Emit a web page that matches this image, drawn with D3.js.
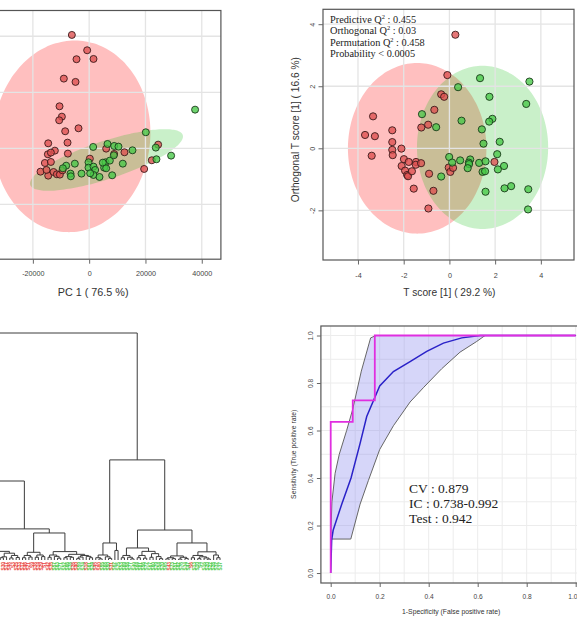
<!DOCTYPE html>
<html><head><meta charset="utf-8">
<script src="https://cdn.jsdelivr.net/npm/d3@7"></script>
<style>body{margin:0;background:#fff}svg{display:block}</style>
</head><body>
<svg id="chart" width="577" height="619"></svg>
<script>
// ================= DATA =================
// Panel A : PCA scores
const pcaRedX = [-6150,-710,1540,-4500,-9000,-4850,-10530,-9700,-10650,-8520,-3790,-14550,-7690,-12190,-14670,-13600,-7570,-15740,-13600,-17280,-14550,-15150,-12660,-11480,-10410,-9470,240,6040,8880,12540,22250,19530,24500];
const pcaRedY = [20240,17500,15950,15900,12440,11850,7500,5650,5000,3040,3570,890,1010,-420,-1070,-770,-950,-2620,-2440,-4170,-4880,-3870,-4230,-4640,-4700,-3930,-1850,-60,-1010,-710,-2140,-3690,650];
const pcaGreenX = [37630,20120,23670,29110,23900,1420,6510,8880,10410,15380,-5090,-8170,-9350,-6630,-6510,-2720,-240,-240,1540,2130,1540,3670,5320,5800,4850,6040,7340,8170,8760,11950,360];
const pcaGreenY = [6900,2860,120,-1310,-1960,240,770,420,300,-360,-2740,-3100,-3570,-4520,-5000,-4520,-2500,-3450,-3270,-3870,-4760,-5120,-3450,-2500,-2560,-3570,-2200,-4820,-1250,-2740,-4460];
const pcaTicksX = [-20000,0,20000,40000];
const pcaGridX = [-40000,-20000,0,20000,40000];
const pcaTicksY = [-10000,0,10000,20000];
const pcaTitleX = "PC 1 ( 76.5 %)";
// confidence ellipses: centre and two half-axis vectors, data units
const pcaRedEllipse = {c:[-6150,2140], a:[27750,-1210], b:[3000,17070]};
const pcaGreenEllipse = {c:[6150,-2080], a:[27100,4460], b:[2110,-3210]};

// Panel B : OPLS-DA scores
const oplsRedX = [0.26,-0.09,-0.36,-0.23,-0.66,-3.34,-0.93,-1.23,-3.69,-3.26,-2.5,-2.5,-2.5,-2.48,-3.4,-2.1,-1.99,-2.09,-1.78,-1.94,-1.85,-1.81,-1.64,-1.46,-1.47,-1.24,-0.89,-1.56,-0.7,-0.92,-0.03,0.04,0.16,1.97];
const oplsRedY = [3.66,2.36,1.74,1.66,1.24,1.03,0.76,0.67,0.43,0.39,0.58,0.2,-0.05,-0.22,-0.24,-0.01,-0.35,-0.57,-0.44,-0.72,-0.86,-0.9,-0.74,-0.44,-0.53,-0.48,-0.82,-1.3,-1.37,-1.94,-0.62,-0.76,-0.63,-0.44];
const oplsGreenX = [1.34,0.38,3.5,1.75,3.36,-1.2,0.53,1.88,1.74,-0.58,1.42,1.49,2.2,2.09,-0.01,0.47,0.91,0.85,0.86,0.12,1.3,1.58,2.39,2.12,1.45,1.56,0.8,-0.36,2.7,2.41,3.45,1.58,3.44];
const oplsGreenY = [2.26,1.97,2.15,1.66,1.43,1.1,0.89,0.95,0.86,0.68,0.61,0.15,0.21,-0.19,-0.28,-0.39,-0.36,-0.46,-0.51,-0.46,-0.47,-0.42,-0.57,-0.68,-0.76,-0.74,-0.64,-0.91,-1.22,-1.29,-1.32,-1.4,-1.97];
const oplsTicksX = [-4,-2,0,2,4];
const oplsTicksY = [-2,0,2,4];
const oplsTitleX = "T score [1] ( 29.2 %)";
const oplsTitleY = "Orthogonal T score [1] ( 16.6 %)";
const oplsRedEllipse = {c:[-1.41,0], a:[3.03,0], b:[0,2.75]};
const oplsGreenEllipse = {c:[1.45,0.03], a:[2.87,0], b:[0,2.63]};
const oplsStatsLabels = ["Predictive Q", "Orthogonal Q", "Permutation Q", "Probability"];
const oplsStatsSup = ["2", "2", "2", ""];
const oplsStatsValues = [" : 0.455", " : 0.03", " : 0.458", " < 0.0005"];

// Panel C : hierarchical clustering dendrogram  [height, left, right], leaves = index
const leafLabels = [23,7,41,15,2,36,19,8,44,27,11,5,39,30,17,48,3,25,33,12,46,21,9,38,14,29,1,42,35,57,63,71,52,66,78,26,40,59,74,18,61,24,45,80,55,68,50,31,62,75,53,69,58,77,49,64,81,56,72,67,60,79,54,70,65,43,73,51,82,76,34,47,6,13,10,4,16,20,22,28,32,37];
const leafGroups = ["R","R","R","R","R","R","R","R","R","R","R","R","R","R","R","R","R","R","R","R","R","R","R","R","R","R","R","R","R",
  "G","G","G","G","G","G","R","R","G","G","R","G","G","R","R","G","G","G","R",
  "G","G","G","G","G","G","G","G","G","G","G","G","G","G","G","G","G","R",
  "G","G","G","G","G","G","R","G","G","G","G","G","G","G","G","G"];
const dendroTree =
 [10,
   [3.48,
     [0.9, [0.3, 0, [0.15, 1, 2]], [0.4, [0.2, 3, 4], [0.12, 5, 6]]],
     [1.37,
       [0.38, [0.25, [0.12, 7, 8], [0.18, 9, [0.08, 10, 11]]], [0.3, [0.14, [0.1, 12, 13], 14], [0.2, [0.09, 15, 16], [0.11, 17, 18]]]],
       [1.19,
         [0.34, [0.2, [0.1, 19, 20], [0.13, 21, 22]], [0.22, [0.12, 23, 24], [0.15, 25, 26]]],
         [0.37,
           [0.22, [0.12, 27, 28], [0.16, 29, [0.08, 30, 31]]],
           [0.25, [0.15, [0.1, 32, 33], [0.12, 34, 35]], [0.2, [0.13, [0.06, 36, 37], 38], [0.16, 39, [0.1, 40, 41]]]]]]]],
   [4.41,
     [0.75,
       [0.22, [0.1, 42, [0.05, 43, 44]], [0.14, 45, [0.07, 46, 47]]],
       [0.42, 48, 49]],
     [1.32,
       [0.53,
         [0.2, [0.1, 50, 51], [0.12, 52, [0.05, 53, 54]]],
         [0.38, [0.2, [0.1, 55, 56], [0.08, 57, 58]], [0.28, [0.12, 59, 60], [0.15, 61, [0.06, 62, 63]]]]],
       [0.75,
         [0.18, [0.1, [0.05, 64, 65], [0.06, 66, 67]], [0.12, [0.04, 68, 69], [0.07, 70, 71]]],
         [0.36, [0.2, [0.1, 72, 73], [0.14, [0.06, 74, 75], [0.09, 76, [0.04, 77, 78]]]], [0.22, 79, [0.1, 80, 81]]]]]]];

// Panel D : ROC curve
const rocUpperX = [0, 0.005, 0.018, 0.035, 0.065, 0.09, 0.125, 0.163, 0.185, 0.4, 1.0];
const rocUpperY = [0.143, 0.3, 0.42, 0.5, 0.6, 0.69, 0.85, 0.99, 1.0, 1.0, 1.0];
const rocLowerX = [0, 0.082, 0.12, 0.154, 0.2, 0.256, 0.324, 0.378, 0.453, 0.528, 0.596, 0.63, 1.0];
const rocLowerY = [0.143, 0.143, 0.29, 0.39, 0.52, 0.62, 0.72, 0.78, 0.86, 0.93, 0.975, 1.0, 1.0];
const rocMeanX = [0, 0.004, 0.01, 0.045, 0.083, 0.12, 0.147, 0.2, 0.256, 0.324, 0.392, 0.46, 0.535, 0.61, 1.0];
const rocMeanY = [0, 0.14, 0.18, 0.29, 0.40, 0.546, 0.659, 0.788, 0.848, 0.89, 0.933, 0.968, 0.99, 1.0, 1.0];
const rocTestX = [0, 0, 0.09, 0.09, 0.18, 0.18, 1.0];
const rocTestY = [0, 0.636, 0.636, 0.727, 0.727, 1.0, 1.0];
const rocTicks = [0, 0.2, 0.4, 0.6, 0.8, 1.0];
const rocGrid = [0, 0.1, 0.2, 0.3, 0.4, 0.5, 0.6, 0.7, 0.8, 0.9, 1.0];
const rocTitleX = "1-Specificity (False positive rate)";
const rocTitleY = "Sensitivity (True positive rate)";
const rocStats = ["CV : 0.879", "IC : 0.738-0.992", "Test : 0.942"];

// ================= DRAWING =================
const svg = d3.select("#chart");
const SANS = "'Liberation Sans', Arial, sans-serif";
const SERIF = "'Liberation Serif', 'Times New Roman', serif";
const GRID = "#e4e4e4";
const FRAME = "#555";
const RED_FILL = "rgba(255,0,0,0.25)";
const GREEN_FILL = "rgba(20,190,20,0.23)";
const RED_PT = "rgba(222,80,80,0.78)";
const GREEN_PT = "rgba(70,200,70,0.78)";

svg.append("rect").attr("width",577).attr("height",619).attr("fill","#fff");
const defs = svg.append("defs");

function ellipsePath(e, sx, sy) {
  const pts = d3.range(0, 361, 4).map(t => {
    const r = t * Math.PI / 180;
    return [sx(e.c[0] + Math.cos(r)*e.a[0] + Math.sin(r)*e.b[0]),
            sy(e.c[1] + Math.cos(r)*e.a[1] + Math.sin(r)*e.b[1])];
  });
  return d3.line().curve(d3.curveCardinalClosed)(pts);
}
function clip(id, sx, sy) {
  defs.append("clipPath").attr("id", id).append("rect")
    .attr("x", sx.range()[0]).attr("y", sy.range()[1])
    .attr("width", sx.range()[1]-sx.range()[0]).attr("height", sy.range()[0]-sy.range()[1]);
}
function frame(sx, sy) {
  svg.append("rect").attr("x", sx.range()[0]).attr("y", sy.range()[1])
    .attr("width", sx.range()[1]-sx.range()[0]).attr("height", sy.range()[0]-sy.range()[1])
    .attr("fill","none").attr("stroke",FRAME).attr("stroke-width",1.2);
}
function styleAxis(g, size) {
  g.select(".domain").remove();
  g.selectAll("line").attr("stroke","#666");
  g.selectAll("text").attr("font-family",SANS).attr("font-size",size).attr("fill","#444");
}

// ---------- Panel A ----------
{
  const x = d3.scaleLinear().domain([-52000, 46800]).range([-57.2, 220.9]);
  const y = d3.scaleLinear().domain([-19800, 24600]).range([259.2, 10.5]);
  clip("clipA", x, y);
  const g = svg.append("g").attr("clip-path","url(#clipA)");
  g.append("path").attr("d", ellipsePath(pcaRedEllipse, x, y)).attr("fill", RED_FILL);
  g.append("path").attr("d", ellipsePath(pcaGreenEllipse, x, y)).attr("fill", GREEN_FILL);
  g.selectAll(".gx").data(pcaGridX).join("line").attr("x1", d=>x(d)).attr("x2", d=>x(d))
    .attr("y1", y.range()[1]).attr("y2", y.range()[0]).attr("stroke", GRID).attr("stroke-width",1.3);
  g.selectAll(".gy").data(pcaTicksY).join("line").attr("y1", d=>y(d)).attr("y2", d=>y(d))
    .attr("x1", x.range()[0]).attr("x2", x.range()[1]).attr("stroke", GRID).attr("stroke-width",1.3);
  g.selectAll(".pr").data(d3.zip(pcaRedX, pcaRedY)).join("circle")
    .attr("cx", d=>x(d[0])).attr("cy", d=>y(d[1])).attr("r",3.5)
    .attr("fill", RED_PT).attr("stroke","#3a1a1a").attr("stroke-width",0.9);
  g.selectAll(".pg").data(d3.zip(pcaGreenX, pcaGreenY)).join("circle")
    .attr("cx", d=>x(d[0])).attr("cy", d=>y(d[1])).attr("r",3.5)
    .attr("fill", GREEN_PT).attr("stroke","#1a3a1a").attr("stroke-width",0.9);
  frame(x, y);
  const ax = svg.append("g").attr("transform",`translate(0,${y.range()[0]})`)
    .call(d3.axisBottom(x).tickValues(pcaTicksX).tickSize(4.5).tickPadding(7.5).tickFormat(d=>String(d)));
  styleAxis(ax, 7.2);
  svg.append("text").attr("x", x(0)+4).attr("y", 296).attr("text-anchor","middle")
    .attr("font-family",SANS).attr("font-size",10.8).attr("fill","#333").text(pcaTitleX);
}

// ---------- Panel B ----------
{
  const x = d3.scaleLinear().domain([-5.53, 5.45]).range([323, 574]);
  const y = d3.scaleLinear().domain([-3.6, 4.48]).range([260, 9.3]);
  clip("clipB", x, y);
  const g = svg.append("g").attr("clip-path","url(#clipB)");
  g.append("path").attr("d", ellipsePath(oplsRedEllipse, x, y)).attr("fill", RED_FILL);
  g.append("path").attr("d", ellipsePath(oplsGreenEllipse, x, y)).attr("fill", GREEN_FILL);
  g.selectAll(".gx").data(oplsTicksX).join("line").attr("x1", d=>x(d)).attr("x2", d=>x(d))
    .attr("y1", y.range()[1]).attr("y2", y.range()[0]).attr("stroke", GRID).attr("stroke-width",1.3);
  g.selectAll(".gy").data(oplsTicksY).join("line").attr("y1", d=>y(d)).attr("y2", d=>y(d))
    .attr("x1", x.range()[0]).attr("x2", x.range()[1]).attr("stroke", GRID).attr("stroke-width",1.3);
  g.selectAll(".pr").data(d3.zip(oplsRedX, oplsRedY)).join("circle")
    .attr("cx", d=>x(d[0])).attr("cy", d=>y(d[1])).attr("r",3.6)
    .attr("fill", RED_PT).attr("stroke","#3a1a1a").attr("stroke-width",0.9);
  g.selectAll(".pg").data(d3.zip(oplsGreenX, oplsGreenY)).join("circle")
    .attr("cx", d=>x(d[0])).attr("cy", d=>y(d[1])).attr("r",3.6)
    .attr("fill", GREEN_PT).attr("stroke","#1a3a1a").attr("stroke-width",0.9);
  frame(x, y);
  const ax = svg.append("g").attr("transform",`translate(0,${y.range()[0]})`)
    .call(d3.axisBottom(x).tickValues(oplsTicksX).tickSize(4.5).tickPadding(8).tickFormat(d=>String(d)));
  styleAxis(ax, 7.2);
  const ay = svg.append("g").attr("transform",`translate(${x.range()[0]},0)`)
    .call(d3.axisLeft(y).tickValues(oplsTicksY).tickSize(4.5).tickFormat(d=>String(d)));
  styleAxis(ay, 7.2);
  ay.selectAll("text").attr("text-anchor","middle").attr("x",0)
    .attr("transform","translate(-11,0) rotate(-90)").attr("dy","0.35em");
  svg.append("text").attr("x", x(0)).attr("y", 296).attr("text-anchor","middle")
    .attr("font-family",SANS).attr("font-size",10.2).attr("fill","#333").text(oplsTitleX);
  svg.append("text").attr("transform",`translate(299,${y(0.6)}) rotate(-90)`).attr("text-anchor","middle")
    .attr("font-family",SANS).attr("font-size",10.2).attr("fill","#333").text(oplsTitleY);
  const st = svg.append("g");
  oplsStatsLabels.forEach((lab, i) => {
    const t = st.append("text").attr("x", x.range()[0]+7).attr("y", y.range()[1]+13.5 + i*11.4)
      .attr("font-family",SERIF).attr("font-size",10.3).attr("fill","#222");
    t.append("tspan").text(lab);
    if (oplsStatsSup[i]) t.append("tspan").attr("dy",-3.8).attr("font-size",6.4).text(oplsStatsSup[i]);
    t.append("tspan").attr("dy", oplsStatsSup[i] ? 3.8 : 0).text(oplsStatsValues[i]);
  });
}

// ---------- Panel C ----------
{
  const lx = d3.scaleLinear().domain([0, leafLabels.length-1]).range([-38, 220]);
  const hy = d3.scaleLinear().domain([0, 10]).range([560, 333]);
  const nodes = [];
  function layout(n) {
    if (typeof n === "number") return {x: lx(n), h: 0};
    const l = layout(n[1]), r = layout(n[2]);
    const me = {x: (l.x + r.x)/2, h: n[0]};
    nodes.push({me, l, r});
    return me;
  }
  layout(dendroTree);
  const g = svg.append("g").attr("stroke","#3c3c3c").attr("stroke-width",1).attr("fill","none");
  nodes.forEach(({me, l, r}) => {
    g.append("path").attr("d",
      `M${l.x},${hy(l.h)}V${hy(me.h)}H${r.x}V${hy(r.h)}`);
  });
  // leaf labels (only those inside the visible figure)
  const shown = leafLabels.map((d,i)=>({d,i})).filter(o => lx(o.i) > 2);
  svg.append("g").selectAll("text").data(shown).join("text")
    .attr("transform",o=>`translate(${lx(o.i)+1.6},562) rotate(-90)`)
    .attr("text-anchor","end").attr("font-family",SANS).attr("font-size",4.8).attr("font-weight","bold")
    .attr("fill",o=> leafGroups[o.i]==="R" ? "#ea4a46" : "#4ccc4c")
    .text(o=>"S"+o.d);
}

// ---------- Panel D ----------
{
  const x = d3.scaleLinear().domain([-0.04, 1.04]).range([320.9, 585.5]);
  const y = d3.scaleLinear().domain([-0.042, 1.04]).range([583, 326]);
  clip("clipD", x, y);
  const g = svg.append("g").attr("clip-path","url(#clipD)");
  g.selectAll(".gx").data(rocGrid).join("line").attr("x1", d=>x(d)).attr("x2", d=>x(d))
    .attr("y1", y.range()[1]).attr("y2", y.range()[0]).attr("stroke", "#ececec").attr("stroke-width",1);
  g.selectAll(".gy").data(rocGrid).join("line").attr("y1", d=>y(d)).attr("y2", d=>y(d))
    .attr("x1", x.range()[0]).attr("x2", x.range()[1]).attr("stroke", "#ececec").attr("stroke-width",1);
  const up = d3.zip(rocUpperX, rocUpperY), lo = d3.zip(rocLowerX, rocLowerY);
  const line = d3.line().x(d=>x(d[0])).y(d=>y(d[1]));
  g.append("path").attr("d", line(up.concat(lo.slice().reverse())) + "Z")
    .attr("fill","rgba(120,120,235,0.3)").attr("stroke","none");
  g.append("path").attr("d", line(up)).attr("fill","none").attr("stroke","#666").attr("stroke-width",1);
  g.append("path").attr("d", line(lo)).attr("fill","none").attr("stroke","#666").attr("stroke-width",1);
  g.append("path").attr("d", line(d3.zip(rocMeanX, rocMeanY))).attr("fill","none")
    .attr("stroke","#2a22c8").attr("stroke-width",1.5);
  g.append("path").attr("d", line(d3.zip(rocTestX, rocTestY))).attr("fill","none")
    .attr("stroke","#e02ee0").attr("stroke-width",1.8);
  frame(x, y);
  const ax = svg.append("g").attr("transform",`translate(0,${y.range()[0]})`)
    .call(d3.axisBottom(x).tickValues(rocTicks).tickSize(4).tickPadding(7).tickFormat(d3.format(".1f")));
  styleAxis(ax, 6.6);
  // keep the last tick label inside the picture edge
  ax.selectAll(".tick").filter(d => d === 1.0).select("text")
    .attr("text-anchor","end").attr("x", 577 - x(1.0));
  const ay = svg.append("g").attr("transform",`translate(${x.range()[0]},0)`)
    .call(d3.axisLeft(y).tickValues(rocTicks).tickSize(4).tickFormat(d3.format(".1f")));
  styleAxis(ay, 6.6);
  ay.selectAll("text").attr("text-anchor","middle").attr("x",0)
    .attr("transform","translate(-10,0) rotate(-90)").attr("dy","0.35em");
  svg.append("text").attr("x", x(0.5)-2).attr("y", 614).attr("text-anchor","middle")
    .attr("font-family",SANS).attr("font-size",6.8).attr("fill","#333").text(rocTitleX);
  svg.append("text").attr("transform",`translate(296,${y(0.5)}) rotate(-90)`).attr("text-anchor","middle")
    .attr("font-family",SANS).attr("font-size",6.8).attr("fill","#333").text(rocTitleY);
  svg.append("g").selectAll("text").data(rocStats).join("text")
    .attr("x", x(0.32)).attr("y",(d,i)=> y(0.335) + i*15)
    .attr("font-family",SERIF).attr("font-size",13.5).attr("fill","#222").text(d=>d);
}
</script>
</body></html>
